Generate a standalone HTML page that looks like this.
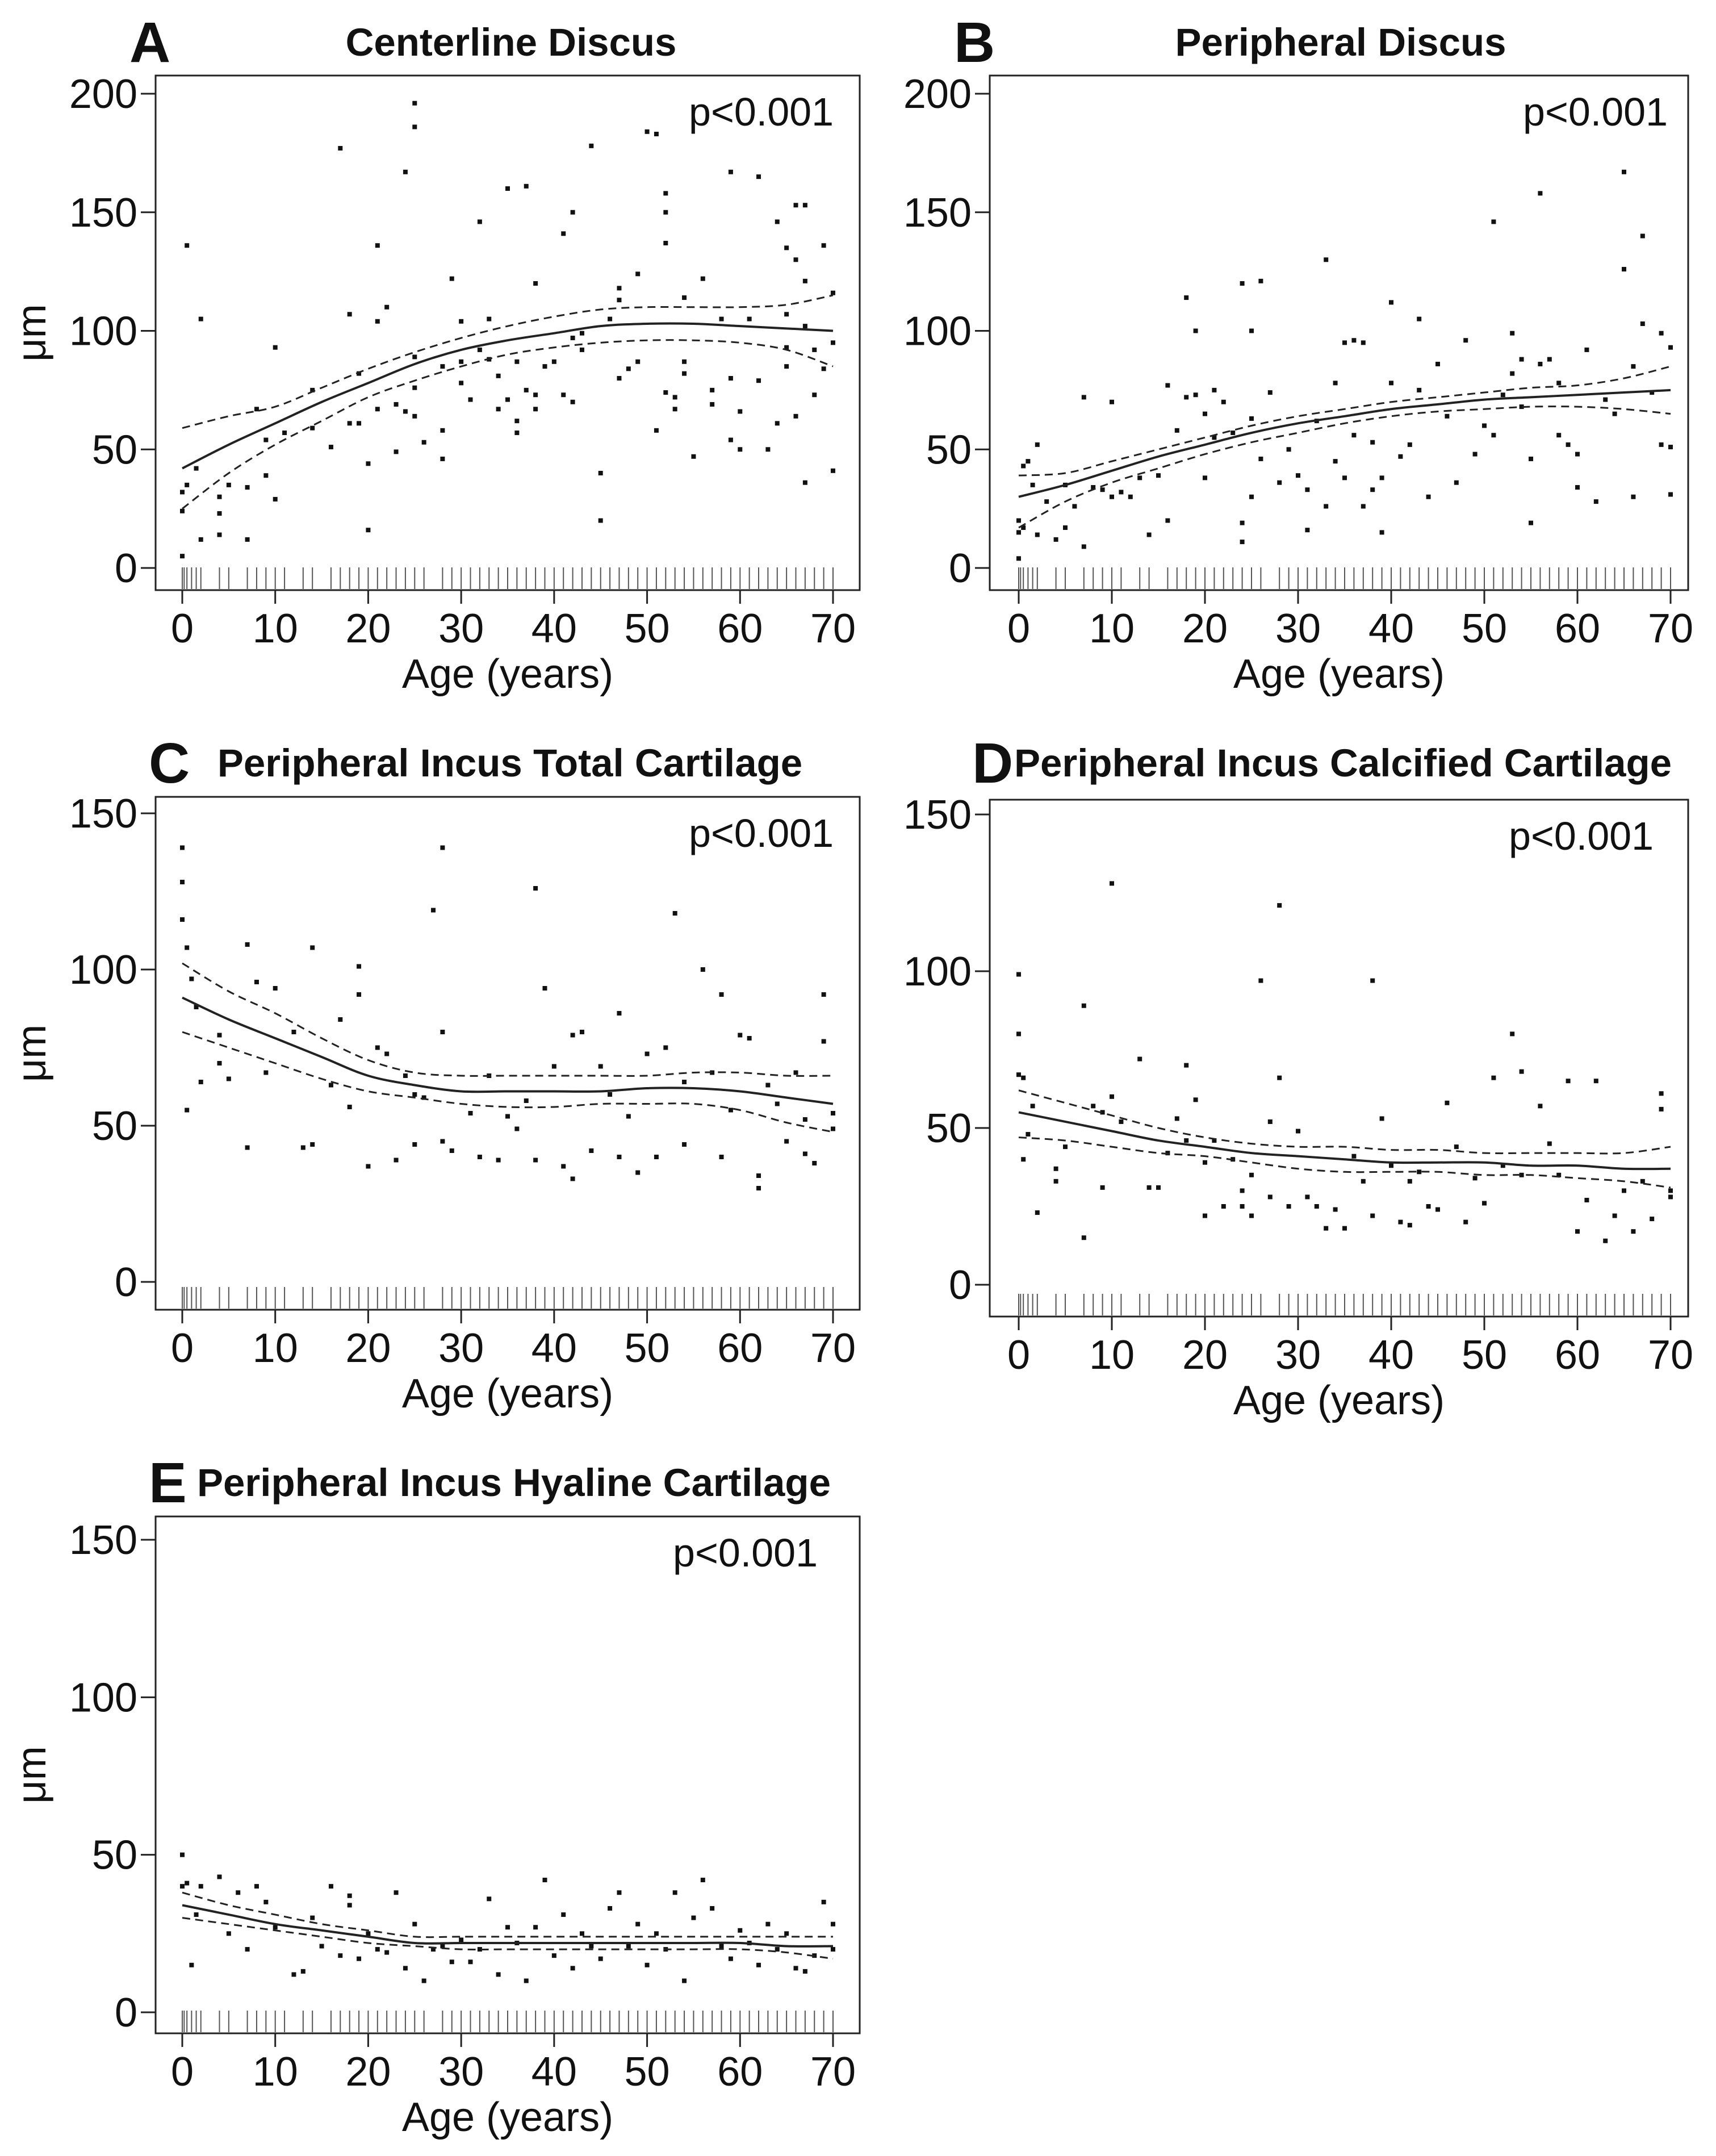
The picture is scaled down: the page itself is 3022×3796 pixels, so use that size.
<!DOCTYPE html>
<html><head><meta charset="utf-8"><style>
html,body{margin:0;padding:0;background:#fff}
svg{display:block}
text{font-family:"Liberation Sans",sans-serif;fill:#111}
</style></head><body>
<svg id="fig" width="3022" height="3796" viewBox="0 0 3022 3796" xmlns="http://www.w3.org/2000/svg"></svg>
<script>
const fitAges=[0,5,10,15,20,25,30,35,40,45,50,55,60,65,70];
const rugAges=[0,0.2,0.5,1,1.5,2,4,5,7,8,9,10,11,13,14,16,17,18,19,20,21,22,23,24,25,26,28,29,30,31,32,33,34,35,36,37,38,39,40,41,42,43,44,45,46,47,48,49,50,51,52,53,54,55,56,57,58,59,60,61,62,63,64,65,66,67,68,69,70];
const xTicks=[0,10,20,30,40,50,60,70];
const yTicksA=[0,50,100,150,200];
const yTicksC=[0,50,100,150];

const ptsA=[[0,5],[0,24],[0,32],[0.5,136],[0.5,35],[1.5,42],[2,12],[2,105],[4,30],[4,23],[4,14],[5,35],[7,34],[7,12],[8,67],[9,54],[9,39],[10,93],[10,29],[11,57],[14,59],[14,75],[16,51],[17,177],[18,107],[18,61],[19,61],[19,82],[20,16],[20,44],[21,136],[21,104],[21,67],[22,110],[23,49],[23,69],[24,167],[24,66],[25,196],[25,186],[25,64],[25,76],[25,89],[26,53],[28,46],[28,58],[28,85],[29,122],[30,104],[30,87],[30,78],[31,71],[32,146],[32,92],[33,105],[33,88],[34,67],[34,81],[35,160],[35,71],[36,62],[36,57],[36,87],[37,161],[37,75],[38,120],[38,73],[38,67],[39,85],[40,87],[41,141],[41,73],[42,150],[42,70],[42,97],[43,99],[43,92],[44,178],[45,20],[45,40],[46,105],[47,118],[47,113],[47,80],[48,84],[49,124],[49,87],[50,184],[51,183],[51,58],[52,158],[52,150],[52,137],[52,74],[53,72],[53,67],[54,114],[54,87],[54,82],[55,47],[56,122],[57,75],[57,69],[58,105],[59,167],[59,80],[59,54],[60,66],[60,50],[61,105],[62,165],[62,79],[63,50],[64,61],[64,146],[65,135],[65,107],[65,93],[65,85],[66,130],[66,64],[66,153],[67,153],[67,121],[67,102],[67,36],[68,92],[68,73],[69,136],[69,84],[70,116],[70,95],[70,41]];
const fitA=[42,52,61,70,78,86,92,96,99,102,103,103,102,101,100];
const upA=[59,64,68,76,84,91,97,102,106,109,110,110,110,111,115];
const loA=[25,40,52,62,72,79,85,90,93,95,96,96,95,92,85];

const ptsB=[[0,4],[0,15],[0,20],[0.5,43],[0.5,17],[1,45],[1.5,35],[2,52],[2,14],[3,28],[4,12],[5,17],[5,35],[6,26],[7,72],[7,9],[8,34],[9,33],[10,30],[10,70],[11,32],[12,30],[13,38],[14,14],[15,39],[16,20],[16,77],[17,58],[18,114],[18,72],[19,100],[19,73],[20,38],[20,65],[21,75],[21,55],[22,70],[23,57],[24,19],[24,11],[24,120],[25,100],[25,30],[25,63],[26,121],[26,46],[27,74],[28,36],[29,50],[30,39],[31,33],[31,16],[32,62],[33,130],[33,26],[34,78],[34,45],[35,95],[35,38],[36,96],[36,56],[37,26],[37,95],[38,53],[38,33],[39,15],[39,38],[40,112],[40,78],[41,47],[42,52],[43,105],[43,75],[44,30],[45,86],[46,64],[47,36],[48,96],[49,48],[50,60],[51,146],[51,56],[52,73],[53,99],[53,82],[54,68],[54,88],[55,46],[55,19],[56,158],[56,86],[57,88],[58,78],[58,56],[59,52],[60,34],[60,48],[61,92],[62,28],[63,71],[64,65],[65,167],[65,126],[66,30],[66,85],[67,140],[67,103],[68,74],[69,99],[69,52],[70,93],[70,31],[70,51]];
const fitB=[30,35,41,47,52,57,61,64,67,69,71,72,73,74,75];
const upB=[39,40,45,50,55,60,64,67,70,72,74,76,77,80,85];
const loB=[17,28,36,42,48,53,57,61,64,66,67,68,68,67,65];

const ptsC=[[0,139],[0,128],[0,116],[0.5,107],[0.5,55],[1,97],[1.5,88],[2,64],[4,79],[4,70],[5,65],[7,108],[7,43],[8,96],[9,67],[10,94],[12,80],[13,43],[14,107],[14,44],[16,63],[17,84],[18,56],[19,101],[19,92],[20,37],[21,75],[22,73],[23,39],[24,66],[25,44],[25,60],[26,59],[27,119],[28,139],[28,80],[28,45],[29,42],[31,54],[32,40],[33,66],[34,39],[35,53],[36,49],[37,58],[38,126],[38,39],[39,94],[40,69],[41,37],[42,33],[42,79],[43,80],[44,42],[45,69],[46,60],[47,86],[47,40],[48,53],[49,35],[50,73],[51,40],[52,75],[53,118],[54,64],[54,44],[56,100],[57,67],[58,92],[58,40],[59,55],[60,79],[61,78],[62,30],[62,34],[63,63],[64,57],[65,45],[66,67],[67,41],[67,52],[68,38],[69,92],[69,77],[70,54],[70,49]];
const fitC=[91,84,78,72,66,63,61,61,61,61,62,62,61,59,57];
const upC=[102,93,86,78,71,67,66,66,66,66,66,67,67,66,66];
const loC=[80,75,70,65,61,59,57,56,56,57,57,57,55,51,48];

const ptsD=[[0,99],[0,80],[0,67],[0.5,66],[0.5,40],[1,48],[1.5,57],[2,23],[4,37],[4,33],[5,44],[7,89],[7,15],[8,57],[9,55],[9,31],[10,128],[10,60],[11,52],[13,72],[14,31],[15,31],[16,42],[17,53],[18,70],[18,46],[19,59],[20,22],[20,39],[21,46],[22,25],[23,40],[24,30],[24,25],[25,35],[25,22],[26,97],[27,52],[27,28],[28,121],[28,66],[29,25],[30,49],[31,28],[32,25],[33,18],[34,24],[35,18],[36,41],[37,33],[38,97],[38,22],[39,53],[40,38],[41,20],[42,19],[42,33],[43,36],[44,25],[45,24],[46,58],[47,44],[48,20],[49,34],[50,26],[51,66],[52,38],[53,80],[54,68],[54,35],[56,57],[57,45],[58,35],[59,65],[60,17],[61,27],[62,65],[63,14],[64,22],[65,30],[66,17],[67,33],[68,21],[69,61],[69,56],[70,30],[70,28]];
const fitD=[55,52,49,46,44,42,41,40,39,39,39,38,38,37,37];
const upD=[62,58,54,50,47,45,44,44,43,43,42,42,42,42,44];
const loD=[47,46,44,42,41,39,37,36,36,36,35,35,34,33,31];

const ptsE=[[0,50],[0,40],[0.5,41],[1,15],[1.5,31],[2,40],[4,43],[5,25],[6,38],[7,20],[8,40],[9,35],[10,27],[12,12],[13,13],[14,30],[15,21],[16,40],[17,18],[18,34],[18,37],[19,17],[20,25],[21,20],[22,19],[23,38],[24,14],[25,28],[26,10],[27,20],[28,21],[29,16],[30,23],[31,16],[32,20],[33,36],[34,12],[35,27],[36,22],[37,10],[38,27],[39,42],[40,18],[41,31],[42,14],[43,25],[44,21],[45,17],[46,33],[47,38],[48,21],[49,28],[50,15],[51,25],[52,20],[53,38],[54,10],[55,30],[56,42],[57,33],[58,21],[59,17],[60,26],[61,22],[62,15],[63,28],[64,20],[65,25],[66,14],[67,13],[68,18],[69,35],[70,28],[70,20]];
const fitE=[34,31,28,26,24,22,22,22,22,22,22,22,22,21,21];
const upE=[38,34,31,28,26,24,24,24,24,24,24,24,24,24,24];
const loE=[30,28,26,24,22,21,20,20,20,20,20,20,20,19,17];

const NS='http://www.w3.org/2000/svg';
const svg=document.getElementById('fig');
function mk(tag,attrs,parent){const e=document.createElementNS(NS,tag);for(const k in attrs)e.setAttribute(k,attrs[k]);(parent||svg).appendChild(e);return e;}

function panel(cfg){
  const g=mk('g',{});
  
  
  const xs=a=>cfg.x0+(cfg.x70-cfg.x0)*a/70;
  const ys=v=>cfg.y0-(cfg.y0-cfg.yTop)*v/cfg.yMax;
  const box=mk('rect',{x:cfg.bx0,y:cfg.by0,width:cfg.bx1-cfg.bx0,height:cfg.by1-cfg.by0,fill:'none',stroke:'#222','stroke-width':3},g);
  
  
  cfg.yt.forEach(v=>{
    const t=mk('line',{x1:cfg.bx0-26,x2:cfg.bx0,y1:ys(v),y2:ys(v),stroke:'#222','stroke-width':3},g);
    
    
    const l=mk('text',{x:cfg.bx0-32,y:ys(v)+25,'font-size':72,'text-anchor':'end'},g);
    l.textContent=v;
    
    
  });
  xTicks.forEach(a=>{
    const t=mk('line',{x1:xs(a),x2:xs(a),y1:cfg.by1,y2:cfg.by1+24,stroke:'#222','stroke-width':3},g);
    
    
    const l=mk('text',{x:xs(a),y:cfg.by1+92,'font-size':72,'text-anchor':'middle'},g);
    l.textContent=a;
    
    
  });
  rugAges.forEach(a=>{
    const r=mk('line',{x1:xs(a),x2:xs(a),y1:cfg.by1-40,y2:cfg.by1-2,stroke:'#555','stroke-width':2},g);
    
    
  });
  cfg.pts.forEach(p=>{
    const d=mk('rect',{x:xs(p[0])-4,y:ys(p[1])-4,width:8,height:8,fill:'#111'},g);
    
    
  });
  const path=arr=>{
    const P=fitAges.map((a,i)=>[xs(a),ys(arr[i])]);
    let s='M'+P[0][0]+','+P[0][1];
    for(let i=0;i<P.length-1;i++){
      const p0=P[Math.max(i-1,0)],p1=P[i],p2=P[i+1],p3=P[Math.min(i+2,P.length-1)];
      s+=' C'+(p1[0]+(p2[0]-p0[0])/6)+','+(p1[1]+(p2[1]-p0[1])/6)+' '+(p2[0]-(p3[0]-p1[0])/6)+','+(p2[1]-(p3[1]-p1[1])/6)+' '+p2[0]+','+p2[1];
    }
    return s;
  };
  const f=mk('path',{d:path(cfg.fit),fill:'none',stroke:'#222','stroke-width':4},g);
  
  
  const u=mk('path',{d:path(cfg.up),fill:'none',stroke:'#222','stroke-width':3,'stroke-dasharray':'14 9'},g);
  
  
  const lo=mk('path',{d:path(cfg.lo),fill:'none',stroke:'#222','stroke-width':3,'stroke-dasharray':'14 9'},g);
  
  
  const p=mk('text',{x:cfg.pX,y:cfg.by0+88,'font-size':70,'text-anchor':'end'},g);
  p.textContent='p<0.001';
  
  
  const xl=mk('text',{x:(cfg.bx0+cfg.bx1)/2,y:cfg.by1+172,'font-size':72,'text-anchor':'middle'},g);
  xl.textContent='Age (years)';
  
  
  if(cfg.yl){
    const yc=(cfg.by0+cfg.by1)/2;
    const yl=mk('text',{x:80,y:yc,'font-size':72,'text-anchor':'middle',transform:'rotate(-90 80 '+yc+')'},g);
    yl.textContent='μm';
    
    
  }
  const L=mk('text',{x:cfg.lX,y:cfg.tY+36,'font-size':100,'font-weight':'bold'},g);
  L.textContent=cfg.key;
  
  
  const T=mk('text',{x:cfg.tX,y:cfg.tY+25,'font-size':69,'font-weight':'bold','text-anchor':'middle'},g);
  T.textContent=cfg.title;
  
  
}

panel({key:'A',title:'Centerline Discus',bx0:274,bx1:1514,by0:133,by1:1039,x0:321,x70:1467,y0:1000,yTop:165,yMax:200,yt:yTicksA,pts:ptsA,fit:fitA,up:upA,lo:loA,pX:1468,yl:true,lX:228,tX:900,tY:73});
panel({key:'B',title:'Peripheral Discus',bx0:1743,bx1:2973,by0:133,by1:1039,x0:1794,x70:2942,y0:1000,yTop:165,yMax:200,yt:yTicksA,pts:ptsB,fit:fitB,up:upB,lo:loB,pX:2937,yl:false,lX:1680,tX:2361,tY:73});
panel({key:'C',title:'Peripheral Incus Total Cartilage',bx0:274,bx1:1514,by0:1403,by1:2306,x0:321,x70:1467,y0:2257,yTop:1432,yMax:150,yt:yTicksC,pts:ptsC,fit:fitC,up:upC,lo:loC,pX:1468,yl:true,lX:262,tX:898,tY:1342});
panel({key:'D',title:'Peripheral Incus Calcified Cartilage',bx0:1743,bx1:2973,by0:1408,by1:2318,x0:1794,x70:2942,y0:2262,yTop:1434,yMax:150,yt:yTicksC,pts:ptsD,fit:fitD,up:upD,lo:loD,pX:2912,yl:false,lX:1712,tX:2365,tY:1342});
panel({key:'E',title:'Peripheral Incus Hyaline Cartilage',bx0:274,bx1:1514,by0:2670,by1:3580,x0:321,x70:1467,y0:3543,yTop:2711,yMax:150,yt:yTicksC,pts:ptsE,fit:fitE,up:upE,lo:loE,pX:1440,yl:true,lX:262,tX:905,tY:2609});
</script>
</body></html>
